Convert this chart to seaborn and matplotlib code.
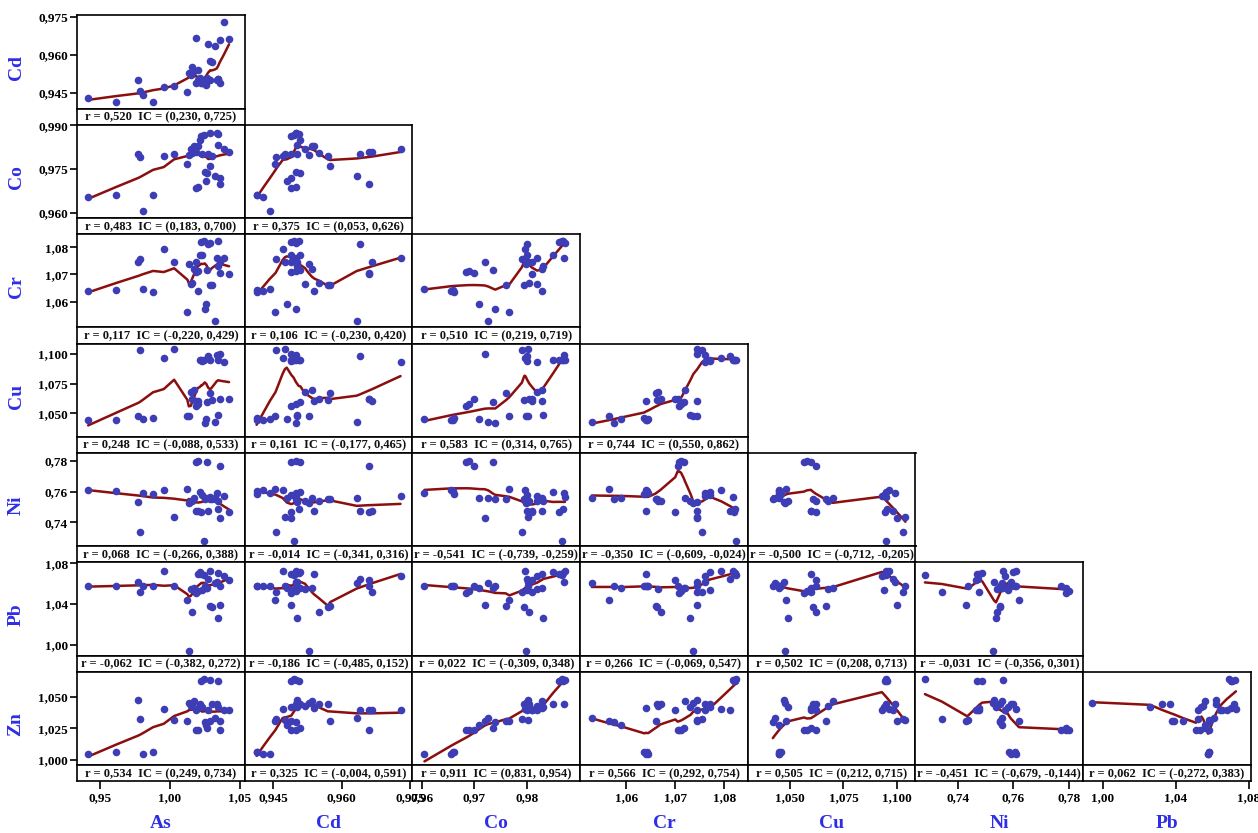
import numpy as np
import pandas as pd
import matplotlib
matplotlib.use("Agg")
import matplotlib.pyplot as plt
import seaborn as sns

# ---------------- data (one entry per sample) ----------------
As = [0.9416, 0.9614, 0.9805, 0.9880, 1.0226, 1.0243, 1.0290, 1.0345,
      1.0190, 1.0200, 1.0267, 1.0357, 1.0136, 0.9786, 0.9776, 0.9957,
      1.0031, 1.0126, 1.0150, 1.0160, 1.0170, 1.0186, 1.0200, 1.0215,
      1.0230, 1.0250, 1.0262, 1.0275, 1.0290, 1.0300, 1.0348, 1.0336,
      1.0320, 1.0360, 1.0386, 1.0424]
Cd = [0.9429, 0.9414, 0.9443, 0.9414, 0.9490, 0.9495, 0.9500, 0.9506,
      0.9490, 0.9500, 0.9510, 0.9659, 0.9528, 0.9456, 0.9502, 0.9471,
      0.9476, 0.9455, 0.9520, 0.9550, 0.9535, 0.9666, 0.9540, 0.9510,
      0.9490, 0.9500, 0.9480, 0.9641, 0.9575, 0.9570, 0.9503, 0.9500,
      0.9633, 0.9490, 0.9729, 0.9660]
Co = [0.9655, 0.9660, 0.9605, 0.9662, 0.9862, 0.9868, 0.9873, 0.9870,
      0.9684, 0.9690, 0.9735, 0.9700, 0.9798, 0.9791, 0.9802, 0.9796,
      0.9802, 0.9767, 0.9820, 0.9805, 0.9830, 0.9810, 0.9830, 0.9850,
      0.9800, 0.9740, 0.9710, 0.9800, 0.9760, 0.9795, 0.9832, 0.9872,
      0.9727, 0.9720, 0.9820, 0.9810]
Cr = [1.0640, 1.0642, 1.0645, 1.0637, 1.0820, 1.0824, 1.0817, 1.0822,
      1.0708, 1.0712, 1.0717, 1.0705, 1.0737, 1.0755, 1.0745, 1.0794,
      1.0744, 1.0564, 1.0665, 1.0670, 1.0720, 1.0745, 1.0640, 1.0770,
      1.0770, 1.0575, 1.0590, 1.0812, 1.0660, 1.0662, 1.0731, 1.0760,
      1.0530, 1.0745, 1.0760, 1.0700]
Cu = [1.0447, 1.0447, 1.0450, 1.0457, 1.0945, 1.0950, 1.0948, 1.0952,
      1.0566, 1.0580, 1.0598, 1.0620, 1.0477, 1.1030, 1.0474, 1.0963,
      1.1040, 1.0480, 1.0680, 1.0620, 1.0700, 1.0600, 1.0600, 1.0950,
      1.0940, 1.0420, 1.0450, 1.0980, 1.0670, 1.0610, 1.0490, 1.0990,
      1.0430, 1.1000, 1.0930, 1.0620]
Ni = [0.7609, 0.7606, 0.7590, 0.7585, 0.7470, 0.7280, 0.7563, 0.7487,
      0.7790, 0.7800, 0.7790, 0.7770, 0.7527, 0.7341, 0.7530, 0.7609,
      0.7435, 0.7620, 0.7540, 0.7540, 0.7560, 0.7477, 0.7477, 0.7600,
      0.7580, 0.7550, 0.7560, 0.7473, 0.7550, 0.7550, 0.7537, 0.7590,
      0.7560, 0.7430, 0.7570, 0.7465]
Pb = [1.0577, 1.0580, 1.0575, 1.0580, 1.0700, 1.0690, 1.0726, 1.0710,
      1.0510, 1.0530, 1.0560, 1.0580, 0.9941, 1.0520, 1.0620, 1.0729,
      1.0580, 1.0440, 1.0550, 1.0324, 1.0560, 1.0520, 1.0700, 1.0720,
      1.0540, 1.0580, 1.0560, 1.0650, 1.0380, 1.0370, 1.0259, 1.0620,
      1.0610, 1.0390, 1.0680, 1.0640]
Zn = [1.0048, 1.0060, 1.0050, 1.0060, 1.0630, 1.0640, 1.0632, 1.0625,
      1.0234, 1.0240, 1.0250, 1.0234, 1.0450, 1.0327, 1.0476, 1.0407,
      1.0314, 1.0312, 1.0430, 1.0440, 1.0470, 1.0400, 1.0410, 1.0440,
      1.0420, 1.0300, 1.0280, 1.0400, 1.0310, 1.0440, 1.0420, 1.0440,
      1.0330, 1.0310, 1.0400, 1.0400]

col_vars = ["As", "Cd", "Co", "Cr", "Cu", "Ni", "Pb"]
row_vars = ["Cd", "Co", "Cr", "Cu", "Ni", "Pb", "Zn"]

# correlation labels, row by row (lower triangle)
r_vals = [[0.520],
          [0.483, 0.375],
          [0.117, 0.106, 0.510],
          [0.248, 0.161, 0.583, 0.744],
          [0.068, -0.014, -0.541, -0.350, -0.500],
          [-0.062, -0.186, 0.022, 0.266, 0.502, -0.031],
          [0.534, 0.325, 0.911, 0.566, 0.505, -0.451, 0.062]]
ci_low = [[0.230],
          [0.183, 0.053],
          [-0.220, -0.230, 0.219],
          [-0.088, -0.177, 0.314, 0.550],
          [-0.266, -0.341, -0.739, -0.609, -0.712],
          [-0.382, -0.485, -0.309, -0.069, 0.208, -0.356],
          [0.249, -0.004, 0.831, 0.292, 0.212, -0.679, -0.272]]
ci_high = [[0.725],
           [0.700, 0.626],
           [0.429, 0.420, 0.719],
           [0.533, 0.465, 0.765, 0.862],
           [0.388, 0.316, -0.259, -0.024, -0.205],
           [0.272, 0.152, 0.348, 0.547, 0.713, 0.301],
           [0.734, 0.591, 0.954, 0.754, 0.715, -0.144, 0.383]]

# axis ranges and ticks
lims = {"As": (0.9336, 1.0536), "Cd": (0.9388, 0.9755), "Co": (0.9582, 0.9902),
        "Cr": (1.0506, 1.0848), "Cu": (1.0303, 1.1087), "Ni": (0.7246, 0.7852),
        "Pb": (0.9892, 1.0811), "Zn": (0.9960, 1.0700)}
xticks = {"As": [0.95, 1.00, 1.05], "Cd": [0.945, 0.960, 0.975], "Co": [0.96, 0.97, 0.98],
          "Cr": [1.06, 1.07, 1.08], "Cu": [1.050, 1.075, 1.100], "Ni": [0.74, 0.76, 0.78],
          "Pb": [1.00, 1.04, 1.08]}
xdec = {"As": 2, "Cd": 3, "Co": 2, "Cr": 2, "Cu": 3, "Ni": 2, "Pb": 2}
yticks = {"Cd": [0.945, 0.960, 0.975], "Co": [0.960, 0.975, 0.990], "Cr": [1.06, 1.07, 1.08],
          "Cu": [1.050, 1.075, 1.100], "Ni": [0.74, 0.76, 0.78], "Pb": [1.00, 1.04, 1.08],
          "Zn": [1.000, 1.025, 1.050]}
ydec = {"Cd": 3, "Co": 3, "Cr": 2, "Cu": 3, "Ni": 2, "Pb": 2, "Zn": 3}

df = pd.DataFrame({"As": As, "Cd": Cd, "Co": Co, "Cr": Cr, "Cu": Cu,
                   "Ni": Ni, "Pb": Pb, "Zn": Zn})


def lowess(x, y, frac=0.4, iters=3):
    x = np.asarray(x, float)
    y = np.asarray(y, float)
    o = np.argsort(x, kind="stable")
    x, y = x[o], y[o]
    n = len(x)
    r = int(np.ceil(frac * n))
    h = np.array([np.sort(np.abs(x - x[i]))[r] for i in range(n)]) + 1e-9
    w = np.clip(np.abs((x[:, None] - x[None, :]) / h[None, :]), 0, 1)
    w = (1 - w ** 3) ** 3
    delta = np.ones(n)
    yest = np.zeros(n)
    for _ in range(iters + 1):
        for i in range(n):
            wt = delta * w[:, i]
            A = np.array([[wt.sum(), (wt * x).sum()], [(wt * x).sum(), (wt * x * x).sum()]])
            b = np.array([(wt * y).sum(), (wt * y * x).sum()])
            beta = np.linalg.lstsq(A, b, rcond=None)[0]
            yest[i] = beta[0] + beta[1] * x[i]
        res = y - yest
        s = np.median(np.abs(res)) + 1e-12
        d = np.clip(res / (6 * s), -1, 1)
        delta = (1 - d ** 2) ** 2
    return x, yest


def fmt(v, d):
    return f"{v:.{d}f}".replace(".", ",")


sns.set_theme(style="white")
plt.rcParams["font.family"] = ["Liberation Serif", "DejaVu Serif"]

pt_color = "#3d3db5"
line_color = "#8b0f0f"
lab_color = "#2e2ee6"

W, H = 1258, 833
fig = plt.figure(figsize=(W / 100, H / 100), dpi=100)


def fr(x0, y0, w, h):
    return [x0 / W, 1 - (y0 + h) / H, w / W, h / H]


col_left0, col_pitch = 77.0, 167.7
row_top0, row_pitch = 15.3, 109.4
sc_h = 93.3
st_h = row_pitch - sc_h

for i, yv in enumerate(row_vars):
    y0 = row_top0 + i * row_pitch
    for j, xv in enumerate(col_vars[: i + 1]):
        x0 = col_left0 + j * col_pitch
        ax = fig.add_axes(fr(x0, y0, col_pitch, sc_h))
        sns.scatterplot(data=df, x=xv, y=yv, ax=ax, color=pt_color, s=30,
                        linewidth=0, zorder=3)
        lx, ly = lowess(df[xv], df[yv])
        sns.lineplot(x=lx, y=ly, ax=ax, color=line_color, linewidth=1.8,
                     sort=False, estimator=None, zorder=2)
        ax.set_xlim(*lims[xv])
        ax.set_ylim(*lims[yv])
        ax.set_xlabel("")
        ax.set_ylabel("")
        ax.set_xticks([])
        for sp in ax.spines.values():
            sp.set_color("black")
            sp.set_linewidth(1.2)
        if j == 0:
            ax.set_yticks(yticks[yv])
            ax.set_yticklabels([fmt(v, ydec[yv]) for v in yticks[yv]],
                               fontsize=9.5, fontweight="bold")
            ax.tick_params(axis="y", left=True, direction="out", length=5,
                           width=1.2, pad=1.5, colors="black")
        else:
            ax.set_yticks([])

        sax = fig.add_axes(fr(x0, y0 + sc_h, col_pitch, st_h))
        sax.set_xlim(*lims[xv])
        sax.set_yticks([])
        for sp in sax.spines.values():
            sp.set_color("black")
            sp.set_linewidth(1.2)
        label = (f"r = {fmt(r_vals[i][j], 3)}  IC = ({fmt(ci_low[i][j], 3)}, "
                 f"{fmt(ci_high[i][j], 3)})")
        sax.text(0.5, 0.45, label, transform=sax.transAxes, ha="center",
                 va="center", fontsize=9, fontweight="bold", color="#111111")
        if i == len(row_vars) - 1:
            sax.set_xticks(xticks[xv])
            sax.set_xticklabels([fmt(v, xdec[xv]) for v in xticks[xv]],
                                fontsize=9.5, fontweight="bold")
            sax.tick_params(axis="x", bottom=True, direction="out", length=6,
                            width=1.2, pad=2, colors="black")
        else:
            sax.set_xticks([])

    fig.text(16 / W, 1 - (y0 + row_pitch / 2 - 2) / H, yv, rotation=90,
             ha="center", va="center", color=lab_color, fontsize=14,
             fontweight="bold")

for j, xv in enumerate(col_vars):
    cx = col_left0 + j * col_pitch + col_pitch / 2
    fig.text(cx / W, 1 - 823 / H, xv, ha="center", va="center",
             color=lab_color, fontsize=14, fontweight="bold")

fig.savefig("out.png", dpi=100, facecolor="white")
